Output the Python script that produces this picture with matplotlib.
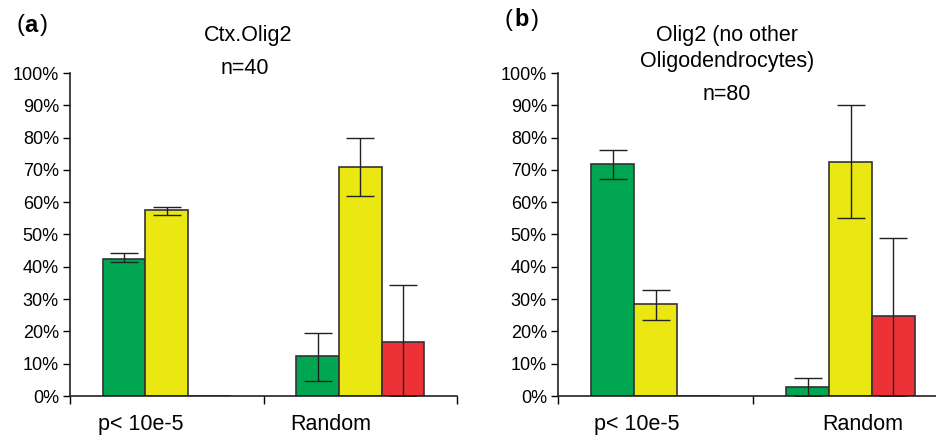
import numpy as np
import matplotlib.pyplot as plt

plt.rcParams['font.family'] = ['Liberation Sans', 'DejaVu Sans']

categories = ['p< 10e-5', 'Random']
colors = ['#00a651', '#ebe713', '#ec3237']

# panel a: Ctx.Olig2, n=40  (green, yellow, red) per category
a_vals = [[42.5, 57.5, 0.0], [12.5, 70.8, 16.8]]
a_lo = [[41.5, 56.0, 0.0], [4.5, 62.0, 0.0]]
a_hi = [[44.3, 58.5, 0.0], [19.5, 80.0, 34.5]]

# panel b: Olig2 (no other Oligodendrocytes), n=80
b_vals = [[71.8, 28.4, 0.0], [2.8, 72.6, 24.8]]
b_lo = [[67.2, 23.6, 0.0], [0.0, 55.0, 0.0]]
b_hi = [[76.3, 32.8, 0.0], [5.5, 90.2, 49.0]]

a_label_x = [0.866, 1.845]
b_label_x = [0.905, 2.064]

fig = plt.figure(figsize=(9.36, 4.36), dpi=100)


def panel(rect, vals, lo, hi, label_x):
    ax = fig.add_axes(rect)
    w = 0.22
    for i in range(len(categories)):
        for j in range(3):
            x = i + 1 + (j - 1) * w
            v = vals[i][j]
            ax.bar(x, v, w, color=colors[j], edgecolor='#333333', linewidth=1.2, zorder=2)
            if v > 0:
                ax.errorbar(x, v, yerr=[[v - lo[i][j]], [hi[i][j] - v]], fmt='none',
                            ecolor='#222222', elinewidth=1.0, capsize=10, capthick=1.0, zorder=3)
    ax.set_xlim(0.5, 2.5)
    ax.set_ylim(0, 100)
    ax.set_yticks(np.arange(0, 101, 10))
    ax.set_yticklabels([f'{t}%' for t in range(0, 101, 10)], fontsize=13)
    ax.set_xticks([0.5, 1.5, 2.5], minor=True)
    ax.set_xticks(label_x)
    ax.set_xticklabels(categories, fontsize=15.5)
    ax.tick_params(axis='x', which='major', length=0, pad=13)
    ax.tick_params(axis='x', which='minor', length=6, width=1, direction='out')
    ax.tick_params(axis='y', length=5, width=1, direction='out', pad=3)
    for s in ['top', 'right']:
        ax.spines[s].set_visible(False)
    for s in ['left', 'bottom']:
        ax.spines[s].set_linewidth(1.2)
        ax.spines[s].set_color('#222222')
    ax.patch.set_alpha(0)
    return ax


panel([70 / 936, 40 / 436, 387 / 936, 323 / 436], a_vals, a_lo, a_hi, a_label_x)
panel([558 / 936, 40 / 436, 390 / 936, 323 / 436], b_vals, b_lo, b_hi, b_label_x)


def fig_text(px, py, s, **kw):
    fig.text(px / 936, 1 - py / 436, s, va='center', **kw)


# titles
fig_text(248, 36, 'Ctx.Olig2', ha='center', fontsize=15.5)
fig_text(245, 69, 'n=40', ha='center', fontsize=15.5)
fig_text(727, 36, 'Olig2 (no other', ha='center', fontsize=15.5)
fig_text(727, 62, 'Oligodendrocytes)', ha='center', fontsize=15.5)
fig_text(727, 95, 'n=80', ha='center', fontsize=15.5)

# panel letters
fig_text(16, 25, '(', ha='left', fontsize=17)
fig_text(24, 25, 'a', ha='left', fontsize=17, fontweight='bold')
fig_text(40, 25, ')', ha='left', fontsize=17)
fig_text(505, 20, '(', ha='left', fontsize=17)
fig_text(514, 20, 'b', ha='left', fontsize=17, fontweight='bold')
fig_text(531, 20, ')', ha='left', fontsize=17)

fig.savefig('out.png', dpi=100)
